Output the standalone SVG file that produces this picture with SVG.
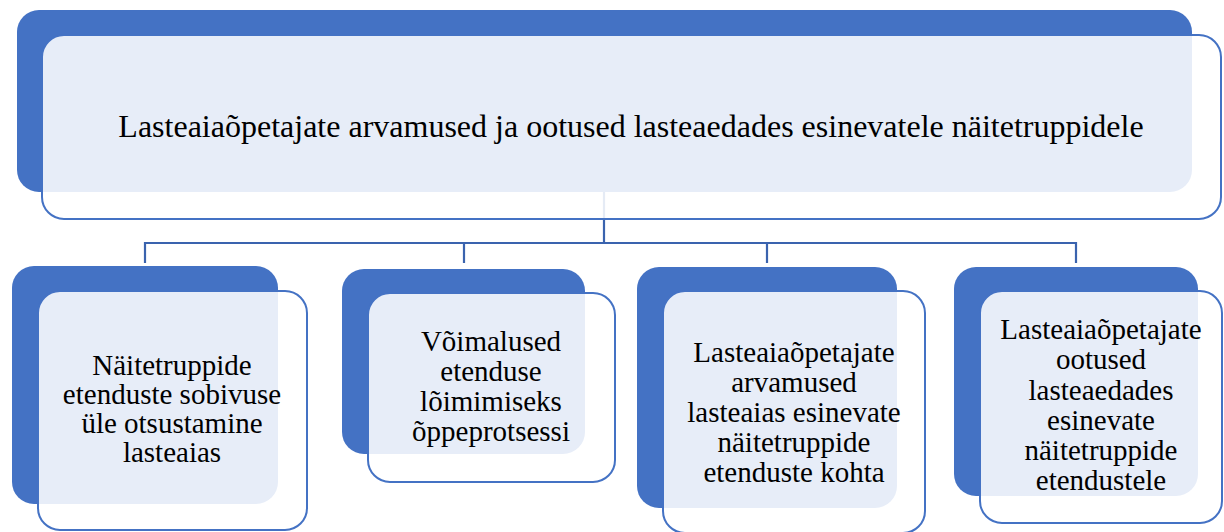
<svg xmlns="http://www.w3.org/2000/svg" width="1224" height="532" viewBox="0 0 1224 532">
<style>
.back{fill:#4472C4}
.front{fill:#FFFFFF;fill-opacity:0.87;stroke:#4472C4;stroke-width:2}
.conn{fill:none;stroke:#3A63AE;stroke-width:2.2}
.lbl{fill:#000000;text-anchor:middle;font-family:'Liberation Serif','Times New Roman',serif}
.t1{font-size:32px}
.t2{font-size:29px}
</style>
<rect width="1224" height="532" fill="#FFFFFF"/>
<g id="connectors">
<path class="conn" d="M604 192V243M145 263V243H1076V263M464 243V263M767 243V263"/>
</g>
<g id="node-top">
<rect class="back" x="17" y="10" width="1175" height="182" rx="22"/>
<rect class="front" x="42" y="35" width="1179" height="184" rx="22"/>
<text class="lbl t1" x="631" y="137">Lasteaiaõpetajate arvamused ja ootused lasteaedades esinevatele näitetruppidele</text>
</g>
<g id="node-1">
<rect class="back" x="12" y="266" width="266" height="238" rx="22"/>
<rect class="front" x="38" y="291" width="269" height="239" rx="22"/>
<text class="lbl t2" x="172"><tspan x="172" y="375">Näitetruppide</tspan><tspan x="172" y="404">etenduste sobivuse</tspan><tspan x="172" y="433">üle otsustamine</tspan><tspan x="172" y="462">lasteaias</tspan></text>
</g>
<g id="node-2">
<rect class="back" x="342" y="269" width="243" height="185" rx="22"/>
<rect class="front" x="368" y="293" width="247" height="189" rx="22"/>
<text class="lbl t2" x="491"><tspan x="491" y="351">Võimalused</tspan><tspan x="491" y="381">etenduse</tspan><tspan x="491" y="411">lõimimiseks</tspan><tspan x="491" y="441">õppeprotsessi</tspan></text>
</g>
<g id="node-3">
<rect class="back" x="637" y="267" width="260" height="241" rx="22"/>
<rect class="front" x="663" y="291" width="262" height="242" rx="22"/>
<text class="lbl t2" x="794"><tspan x="794" y="362">Lasteaiaõpetajate</tspan><tspan x="794" y="392">arvamused</tspan><tspan x="794" y="422">lasteaias esinevate</tspan><tspan x="794" y="452">näitetruppide</tspan><tspan x="794" y="482">etenduste kohta</tspan></text>
</g>
<g id="node-4">
<rect class="back" x="954" y="267" width="244" height="229" rx="22"/>
<rect class="front" x="980" y="291" width="242" height="232" rx="22"/>
<text class="lbl t2" x="1101"><tspan x="1101" y="339">Lasteaiaõpetajate</tspan><tspan x="1101" y="369">ootused</tspan><tspan x="1101" y="400">lasteaedades</tspan><tspan x="1101" y="430">esinevate</tspan><tspan x="1101" y="460">näitetruppide</tspan><tspan x="1101" y="490">etendustele</tspan></text>
</g>
</svg>
